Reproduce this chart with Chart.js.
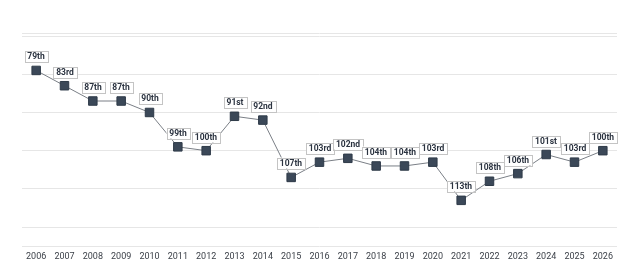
<!DOCTYPE html>
<html>
<head>
<meta charset="utf-8">
<script src="https://cdn.jsdelivr.net/npm/chart.js@4.4.0/dist/chart.umd.min.js"></script>
<style>
  html, body { margin: 0; padding: 0; background: #fff; }
  #wrap { width: 640px; height: 272px; }
</style>
</head>
<body>
<div id="wrap"><canvas id="rank"></canvas></div>
<script>
// RANKING

var years = ['2006', '2007', '2008', '2009', '2010', '2011', '2012', '2013', '2014', '2015', '2016',
    '2017', '2018', '2019', '2020', '2021', '2022', '2023', '2024', '2025', '2026'];
var ranks = [79, 83, 87, 87, 90, 99, 100, 91, 92, 107, 103, 102, 104, 104, 103, 113, 108, 106, 101, 103, 100];
var gridValues = [69.2, 70, 80, 90, 100, 110, 120, 125];

function ordinal(n) {
    var s = ['th', 'st', 'nd', 'rd'];
    var v = n % 100;
    return n + (s[(v - 20) % 10] || s[v] || s[0]);
}

// boxed labels above each point
var rankLabels = {
    id: 'rankLabels',
    afterDatasetsDraw: function(chart) {
        var ctx = chart.ctx;
        var meta = chart.getDatasetMeta(0);
        ctx.save();
        ctx.font = 'bold 8.5px Roboto';
        ctx.textAlign = 'center';
        ctx.textBaseline = 'middle';
        meta.data.forEach(function(pt, i) {
            var txt = ordinal(ranks[i]);
            var w = Math.round(ctx.measureText(txt).width + 6);
            var h = 11;
            var x = Math.round(pt.x);
            var y = Math.round(pt.y - 14);
            ctx.fillStyle = '#fff';
            ctx.fillRect(x - w / 2, y - h / 2, w, h);
            ctx.strokeStyle = '#c4c4c4';
            ctx.lineWidth = 1;
            ctx.strokeRect(Math.round(x - w / 2) + 0.5, Math.round(y - h / 2) + 0.5, w, h);
            ctx.fillStyle = '#2b3340';
            ctx.fillText(txt, x, y + 1);
        });
        ctx.restore();
    }
};

var ctx = document.getElementById('rank').getContext('2d');
var chart = new Chart(ctx, {
    type: 'line',
    data: {
        labels: years,
        datasets: [{
            data: ranks,
            borderColor: '#7a7f86',
            borderWidth: 1,
            tension: 0,
            pointStyle: 'rect',
            pointRadius: 6,
            pointBorderWidth: 1,
            pointBackgroundColor: '#3b4858',
            pointBorderColor: '#2e3a48'
        }]
    },
    options: {
        responsive: true,
        maintainAspectRatio: false,
        animation: false,
        layout: {
            padding: { left: 22, right: 23, top: 33, bottom: 5 }
        },
        plugins: {
            legend: { display: false },
            tooltip: { enabled: false }
        },
        scales: {
            x: {
                offset: true,
                grid: { display: false, drawTicks: false },
                border: { display: false },
                ticks: {
                    color: '#3a3f47',
                    font: { family: 'Roboto', size: 9 },
                    maxRotation: 0,
                    autoSkip: false,
                    padding: 5
                }
            },
            y: {
                reverse: true,
                min: 69.2,
                max: 125,
                border: { display: false },
                grid: { color: '#e6e6e6', lineWidth: 1, drawTicks: false },
                ticks: { display: false },
                afterBuildTicks: function(axis) {
                    axis.ticks = gridValues.map(function(v) { return { value: v }; });
                }
            }
        }
    },
    plugins: [rankLabels]
});
</script>
</body>
</html>
